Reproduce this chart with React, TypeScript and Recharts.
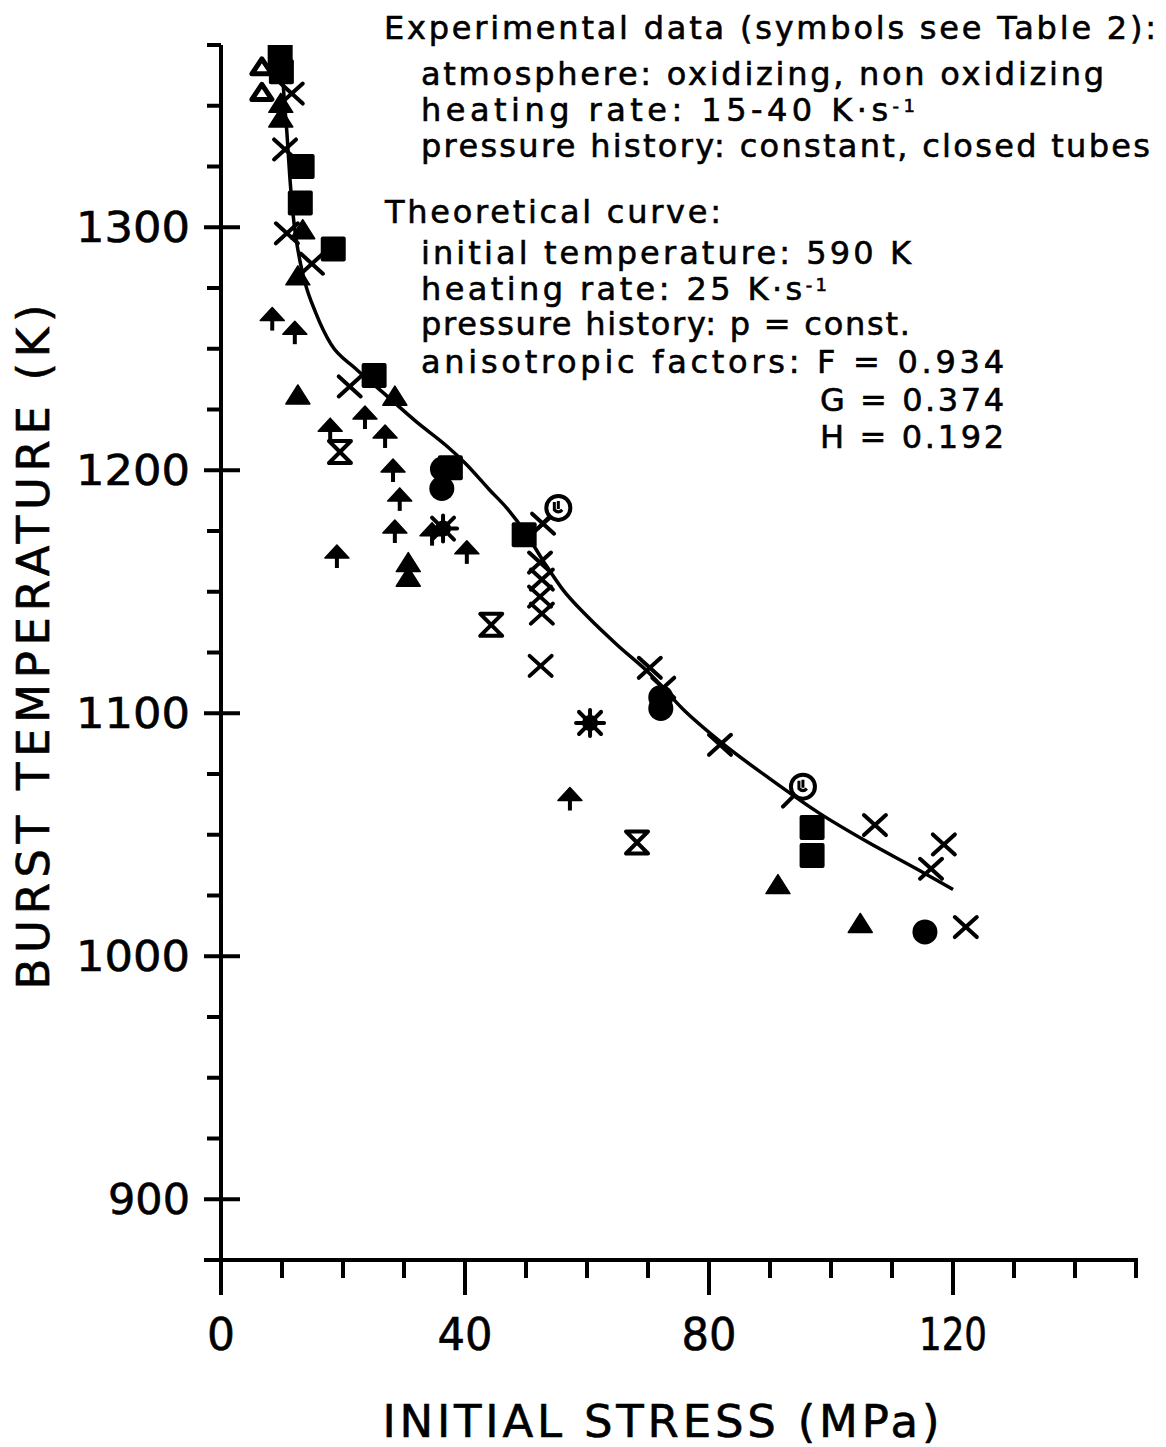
import React from 'react';
import { ScatterChart, Scatter, XAxis, YAxis } from 'recharts';

const FONT = '"DejaVu Sans", "Liberation Sans", sans-serif';
const INK = '#000';

// theoretical curve
const curveStress = [9.8, 10.3, 10.8, 11.3, 12.0, 12.8, 13.8, 15.5, 18, 22, 27, 32, 37, 40, 44, 47, 50, 53, 56, 60, 65, 70, 76, 82, 90, 98, 106, 114, 120];
const curveTemp = [1373, 1355, 1339, 1320, 1301, 1288, 1277, 1265, 1252, 1242, 1231, 1220, 1210, 1203, 1192, 1184, 1174, 1162, 1151, 1140, 1128, 1117, 1101, 1088, 1073, 1059, 1047, 1036, 1027.5];

// experimental points, one list per symbol
const squares = [
  { x: 9.7, y: 1371 }, { x: 9.9, y: 1364 }, { x: 13.3, y: 1325 }, { x: 13.0, y: 1310 },
  { x: 18.4, y: 1291 }, { x: 25.1, y: 1239 }, { x: 37.6, y: 1201 }, { x: 49.7, y: 1173.5 },
  { x: 96.9, y: 1053 }, { x: 96.9, y: 1041.5 },
];
const dots = [
  { x: 36.3, y: 1200.5 }, { x: 36.2, y: 1192.5 }, { x: 72.1, y: 1106.5 }, { x: 72.1, y: 1102 },
  { x: 115.4, y: 1010 },
];
const triangles = [
  { x: 9.8, y: 1351 }, { x: 9.8, y: 1345 }, { x: 13.4, y: 1299 }, { x: 12.6, y: 1280 },
  { x: 12.6, y: 1231 }, { x: 28.5, y: 1230.5 }, { x: 30.7, y: 1162 }, { x: 30.7, y: 1156 },
  { x: 91.3, y: 1029.5 }, { x: 104.8, y: 1013.5 },
];
const openTriangles = [{ x: 6.7, y: 1366 }, { x: 6.7, y: 1355.5 }];
const crosses = [
  { x: 11.6, y: 1355 }, { x: 10.5, y: 1332 }, { x: 10.8, y: 1297.5 }, { x: 14.9, y: 1285 },
  { x: 21.1, y: 1234.5 }, { x: 52.8, y: 1178 }, { x: 52.3, y: 1162 }, { x: 52.6, y: 1155 },
  { x: 52.3, y: 1148 }, { x: 52.6, y: 1141 }, { x: 52.4, y: 1119.5 }, { x: 70.3, y: 1118.7 },
  { x: 72.5, y: 1110.5 }, { x: 81.8, y: 1087 }, { x: 107.2, y: 1054 }, { x: 118.5, y: 1046 },
  { x: 116.4, y: 1036 }, { x: 122.1, y: 1012 },
];
const arrows = [
  { x: 8.4, y: 1262 }, { x: 12.1, y: 1256.4 }, { x: 17.9, y: 1216.5 }, { x: 23.6, y: 1221.5 },
  { x: 26.9, y: 1213.7 }, { x: 28.2, y: 1199.7 }, { x: 29.3, y: 1187.8 }, { x: 28.5, y: 1174.6 },
  { x: 19.0, y: 1164.3 }, { x: 40.3, y: 1166 }, { x: 34.6, y: 1173.5 }, { x: 57.2, y: 1064.5 },
];
const hourglasses = [{ x: 19.5, y: 1207.5 }, { x: 44.3, y: 1136.4 }, { x: 68.2, y: 1046.8 }];
const stars = [{ x: 36.4, y: 1176 }, { x: 60.5, y: 1096 }];
const circleG = [{ x: 55.3, y: 1184.5 }, { x: 95.4, y: 1069.8 }];

const stressTicks = [0, 10, 20, 30, 40, 50, 60, 70, 80, 90, 100, 110, 120, 130, 140, 150];
const tempTicks = [875, 900, 925, 950, 975, 1000, 1025, 1050, 1075, 1100, 1125, 1150, 1175, 1200, 1225, 1250, 1275, 1300, 1325, 1350, 1375];

const curve = curveStress.map((x, i) => ({ x, y: curveTemp[i] }));

type P = { cx?: number; cy?: number };

const Empty = () => <g />;
const Square = ({ cx = 0, cy = 0 }: P) => (
  <rect x={cx - 12.5} y={cy - 12.5} width={25} height={25} rx={2} fill={INK} />
);
const Dot = ({ cx = 0, cy = 0 }: P) => <circle cx={cx} cy={cy} r={12.5} fill={INK} />;
const Tri = ({ cx = 0, cy = 0 }: P) => (
  <polygon points={`${cx},${cy - 10} ${cx + 12},${cy + 9} ${cx - 12},${cy + 9}`} fill={INK} stroke={INK} strokeWidth={1.5} strokeLinejoin="round" />
);
const OpenTri = ({ cx = 0, cy = 0 }: P) => (
  <polygon points={`${cx},${cy - 8} ${cx + 10},${cy + 7} ${cx - 10},${cy + 7}`} fill="#fff" stroke={INK} strokeWidth={5} strokeLinejoin="round" />
);
const Cross = ({ cx = 0, cy = 0 }: P) => (
  <g stroke={INK} strokeWidth={4} strokeLinecap="round">
    <line x1={cx - 11} y1={cy - 10} x2={cx + 11} y2={cy + 10} />
    <line x1={cx - 11} y1={cy + 10} x2={cx + 11} y2={cy - 10} />
  </g>
);
const Arrow = ({ cx = 0, cy = 0 }: P) => (
  <g fill={INK}>
    <polygon points={`${cx},${cy - 12} ${cx + 12},${cy + 1} ${cx - 12},${cy + 1}`} stroke={INK} strokeWidth={1.5} strokeLinejoin="round" />
    <rect x={cx - 2} y={cy} width={4} height={11} />
  </g>
);
const Hourglass = ({ cx = 0, cy = 0 }: P) => (
  <polygon points={`${cx - 11},${cy - 11} ${cx + 11},${cy - 11} ${cx - 11},${cy + 11} ${cx + 11},${cy + 11}`} fill="none" stroke={INK} strokeWidth={4} strokeLinejoin="round" />
);
const Star = ({ cx = 0, cy = 0 }: P) => (
  <g stroke={INK} strokeWidth={4} strokeLinecap="round">
    <line x1={cx - 14} y1={cy} x2={cx + 14} y2={cy} />
    <line x1={cx} y1={cy - 13} x2={cx} y2={cy + 13} />
    <line x1={cx - 11} y1={cy - 11} x2={cx + 11} y2={cy + 11} />
    <line x1={cx - 11} y1={cy + 11} x2={cx + 11} y2={cy - 11} />
    <circle cx={cx} cy={cy} r={6} fill={INK} />
  </g>
);
const CircleG = ({ cx = 0, cy = 0 }: P) => (
  <g stroke={INK} strokeWidth={4} fill="none">
    <line x1={cx - 8} y1={cy + 8} x2={cx - 20} y2={cy + 20} strokeLinecap="round" />
    <circle cx={cx} cy={cy} r={12} fill="#fff" />
    <path d={`M ${cx - 4} ${cy - 6} L ${cx - 4} ${cy + 2} Q ${cx} ${cy + 6} ${cx + 4} ${cy + 2} M ${cx} ${cy - 7} L ${cx} ${cy + 1}`} strokeWidth={3} />
  </g>
);

const XTick = (props: any) => {
  const { x, y, payload } = props;
  const v = payload.value;
  const major = v % 40 === 0;
  const len = v < 10 ? 0 : v < 100 ? 55 : 68;
  return (
    <g>
      <line x1={x} x2={x} y1={y - 2} y2={y + (major ? 35 : 18)} stroke={INK} strokeWidth={4} />
      {major && (
        <text x={x} y={y + 90} textAnchor="middle" fontFamily={FONT} fontSize={44} fill={INK}
          stroke={INK} strokeWidth={0.6}
          {...(len ? { textLength: len, lengthAdjust: 'spacingAndGlyphs' } : {})}>
          {v}
        </text>
      )}
    </g>
  );
};

const YTick = (props: any) => {
  const { x, y, payload } = props;
  const v = payload.value;
  const major = v % 100 === 0;
  const left = major || v === 875 ? 17 : 14;
  return (
    <g>
      <line x1={x - left} x2={major ? x + 19 : x} y1={y} y2={y} stroke={INK} strokeWidth={4} />
      {major && (
        <text x={x - 31} y={y + 15} textAnchor="end" fontFamily={FONT} fontSize={42} fill={INK}
          stroke={INK} strokeWidth={0.6}
          textLength={v < 1000 ? 82 : 114} lengthAdjust="spacingAndGlyphs">
          {v}
        </text>
      )}
    </g>
  );
};

const Notes = () => {
  const t = { fontFamily: FONT, fontSize: 32, fill: INK, stroke: INK, strokeWidth: 0.6, lengthAdjust: 'spacing' } as const;
  return (
    <svg width={1166} height={1447} style={{ position: 'absolute', left: 0, top: 0, pointerEvents: 'none' }}>
      <text {...t} x={384} y={39} textLength={772}>Experimental data (symbols see Table 2):</text>
      <text {...t} x={421} y={85} textLength={683}>atmosphere: oxidizing, non oxidizing</text>
      <text {...t} x={421} y={121} textLength={494}>
        heating rate:  15-40 K·s<tspan dy={-9} fontSize={18}>-1</tspan>
      </text>
      <text {...t} x={421} y={157} textLength={729}>pressure history: constant, closed tubes</text>

      <text {...t} x={385} y={223} textLength={336}>Theoretical curve:</text>
      <text {...t} x={421} y={264} textLength={490}>initial temperature:  590 K</text>
      <text {...t} x={421} y={300} textLength={406}>
        heating rate: 25 K·s<tspan dy={-9} fontSize={18}>-1</tspan>
      </text>
      <text {...t} x={421} y={335} textLength={489}>pressure history: p = const.</text>
      <text {...t} x={421} y={373} textLength={583}>anisotropic factors:  F = 0.934</text>
      <text {...t} x={1004} y={411} textAnchor="end" textLength={184}>G = 0.374</text>
      <text {...t} x={1004} y={448} textAnchor="end" textLength={184}>H = 0.192</text>

      <text x={49} y={647} transform="rotate(-90, 49, 647)" textAnchor="middle" fontFamily={FONT} fontSize={45} fill={INK}
        stroke={INK} strokeWidth={0.6} textLength={685} lengthAdjust="spacing">BURST TEMPERATURE (K)</text>
      <text x={661} y={1437} textAnchor="middle" fontFamily={FONT} fontSize={45} fill={INK}
        stroke={INK} strokeWidth={0.6} textLength={557} lengthAdjust="spacing">INITIAL STRESS (MPa)</text>
    </svg>
  );
};

export default function App() {
  return (
    <div style={{ position: 'absolute', left: 0, top: 0, width: 1166, height: 1447, background: '#fff' }}>
      <ScatterChart width={1166} height={1447} margin={{ top: 45, right: 30, bottom: 87, left: 71 }}>
        <XAxis type="number" dataKey="x" domain={[0, 150]} ticks={stressTicks} interval={0}
          tick={(p: any) => <XTick {...p} />} tickLine={false} tickSize={0} tickMargin={0}
          axisLine={{ stroke: INK, strokeWidth: 4 }} height={100} allowDataOverflow />
        <YAxis type="number" dataKey="y" domain={[875, 1375]} ticks={tempTicks} interval={0}
          tick={(p: any) => <YTick {...p} />} tickLine={false} tickSize={0} tickMargin={0}
          axisLine={{ stroke: INK, strokeWidth: 4 }} width={150} allowDataOverflow />
        <Scatter data={curve} shape={Empty} line={{ stroke: INK, strokeWidth: 3.5 }} lineJointType="monotoneX" isAnimationActive={false} />
        <Scatter data={openTriangles} shape={OpenTri} isAnimationActive={false} />
        <Scatter data={squares} shape={Square} isAnimationActive={false} />
        <Scatter data={dots} shape={Dot} isAnimationActive={false} />
        <Scatter data={triangles} shape={Tri} isAnimationActive={false} />
        <Scatter data={crosses} shape={Cross} isAnimationActive={false} />
        <Scatter data={arrows} shape={Arrow} isAnimationActive={false} />
        <Scatter data={hourglasses} shape={Hourglass} isAnimationActive={false} />
        <Scatter data={stars} shape={Star} isAnimationActive={false} />
        <Scatter data={circleG} shape={CircleG} isAnimationActive={false} />
      </ScatterChart>
      <Notes />
    </div>
  );
}
